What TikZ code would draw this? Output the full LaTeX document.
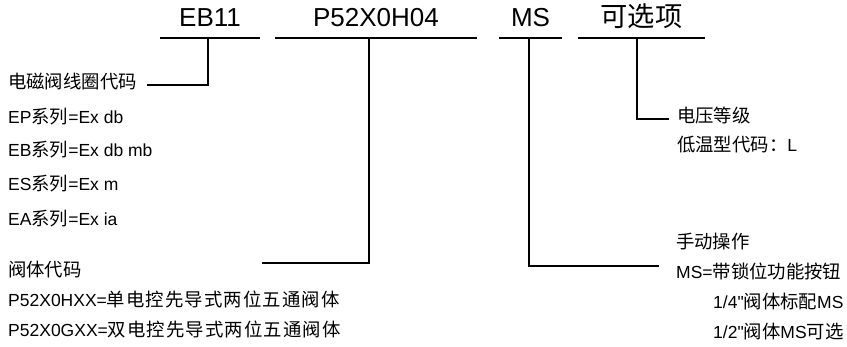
\documentclass[tikz,border=0pt]{standalone}
\usepackage{fontspec}
\newfontfamily\latin{Liberation Sans}
\newfontfamily\cjk{Noto Sans CJK SC}[Scale=1.05]
\newfontfamily\cjkwide{Noto Sans CJK SC}[Scale=1.05,LetterSpace=6]
\newcommand{\zh}[1]{{\cjk #1}}
\newcommand{\zhw}[1]{{\cjkwide #1}}
\tikzset{
  code/.style={anchor=base, font=\latin\fontsize{26}{26}\selectfont,
    text depth=0pt, inner xsep=0pt, inner ysep=12pt},
  desc/.style={anchor=west, font=\latin\fontsize{17.5}{17.5}\selectfont,
    text height=0.76em, text depth=0pt, inner sep=0pt},
  leader/.style={line width=1.8pt}
}
\begin{document}
\begin{tikzpicture}[x=1pt,y=-1pt]
  \useasboundingbox (0,0) rectangle (847,346);
  % Model code
  \node[code, minimum width=100] (eb) at (210,26) {EB11};
  \node[code, minimum width=202] (valve) at (376,26) {P52X0H04};
  \node[code, minimum width=63] (ms) at (530.5,26) {MS};
  \node[code, minimum width=127] (opt) at (641.5,26) {\zh{\fontsize{26}{26}\selectfont 可选项}};
  \foreach \c in {eb,valve,ms,opt}
    \draw[leader] (\c.south west) -- (\c.south east);
  % Left column
  \node[desc] (coil) at (8,85) {\zh{电磁阀线圈代码}};
  \node[desc] (ep) at (8,120) {EP\zh{系列}=Ex db};
  \node[desc] (ebs) at (8,153) {EB\zh{系列}=Ex db mb};
  \node[desc] (es) at (8,187) {ES\zh{系列}=Ex m};
  \node[desc] (ea) at (8,222) {EA\zh{系列}=Ex ia};
  \node[desc] (body) at (8,273) {\zh{阀体代码}};
  \node[desc] (single) at (8,303) {P52X0HXX=\zhw{单电控先导式两位五通阀体}};
  \node[desc] (double) at (8,333) {P52X0GXX=\zhw{双电控先导式两位五通阀体}};
  % Right column
  \node[desc] (volt) at (677,119) {\zh{电压等级}};
  \node[desc] (low) at (677,148) {\zh{低温型代码：}L};
  \node[desc] (manual) at (676,245) {\zh{手动操作}};
  \node[desc] (lock) at (676,275) {MS=\zh{带锁位功能按钮}};
  \node[desc] (quarter) at (713,305) {1/4"\zh{阀体标配}MS};
  \node[desc] (half) at (713,335) {1/2"\zh{阀体}MS\zh{可选}};
  % Leaders
  \coordinate (valve-end) at (262,263);
  \coordinate (manual-end) at (659,266);
  \draw[leader] ([xshift=-2pt]eb.south) |- ([xshift=10pt]coil.east);
  \draw[leader] ([xshift=-7pt]valve.south) |- (valve-end);
  \draw[leader] ([xshift=-1.5pt]ms.south) |- (manual-end);
  \draw[leader] ([xshift=-4.5pt]opt.south) |- ([xshift=-8pt]volt.west);
\end{tikzpicture}
\end{document}
